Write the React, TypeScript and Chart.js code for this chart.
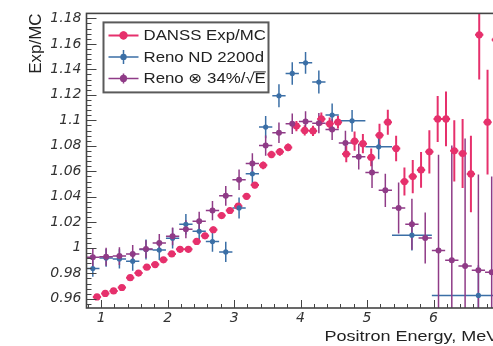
import { useEffect, useRef } from "react";
import { Chart, registerables } from "chart.js";

Chart.register(...registerables);

// DANSS measured / predicted positron spectrum, 125 keV bins
const DANSS_E = [
  0.9375, 1.0625, 1.1875, 1.3125, 1.4375, 1.5625, 1.6875, 1.8125, 1.9375, 2.0625,
  2.1875, 2.3125, 2.4375, 2.5625, 2.6875, 2.8125, 2.9375, 3.0625, 3.1875, 3.3125,
  3.4375, 3.5625, 3.6875, 3.8125, 3.9375, 4.0625, 4.1875, 4.3125, 4.4375, 4.5625,
  4.6875, 4.8125, 4.9375, 5.0625, 5.1875, 5.3125, 5.4375, 5.5625, 5.6875, 5.8125,
  5.9375, 6.0625, 6.1875, 6.3125, 6.4375, 6.5625, 6.6875, 6.8125, 6.9375,
];
const DANSS_RATIO = [
  0.9615, 0.9642, 0.9662, 0.9689, 0.9766, 0.9802, 0.9848, 0.9869, 0.9906, 0.9952,
  0.9988, 0.9988, 1.005, 1.0094, 1.0142, 1.0253, 1.0293, 1.0327, 1.0404, 1.0492,
  1.0647, 1.0732, 1.0753, 1.0788, 1.0955, 1.0921, 1.0917, 1.1011, 1.0973, 1.0986,
  1.0736, 1.0837, 1.0817, 1.0709, 1.0883, 1.0986, 1.0779, 1.052, 1.0559, 1.0611,
  1.0753, 1.1011, 1.1011, 1.0761, 1.074, 1.058, 1.1671, 1.0986, 1.1632,
];
const DANSS_ERR = [
  0.0018, 0.0018, 0.0018, 0.0018, 0.0018, 0.0018, 0.0018, 0.0018, 0.0018, 0.0018,
  0.0025, 0.0025, 0.0025, 0.0025, 0.0025, 0.0025, 0.0025, 0.0025, 0.0025, 0.0025,
  0.003, 0.003, 0.003, 0.003, 0.004, 0.004, 0.004, 0.005, 0.005, 0.005,
  0.0065, 0.0075, 0.0075, 0.007, 0.009, 0.0098, 0.01, 0.011, 0.013, 0.014,
  0.017, 0.018, 0.0215, 0.024, 0.027, 0.03, 0.035, 0.041, 0.045,
];
const DANSS_HALF_WIDTH = 0.0625;

// RENO near detector, 2200 days
const RENO_E = [
  0.875, 1.075, 1.275, 1.475, 1.675, 1.875, 2.075, 2.275, 2.475, 2.675,
  2.875, 3.075, 3.275, 3.475, 3.675, 3.875, 4.075, 4.275, 4.475, 4.775,
  5.175, 5.675, 6.675,
];
const RENO_RATIO = [
  0.9838, 0.9921, 0.9913, 0.9895, 0.9987, 0.9983, 1.0075, 1.0185, 1.013, 1.0049,
  0.9968, 1.0313, 1.0581, 1.0947, 1.1193, 1.1368, 1.1451, 1.1301, 1.1042, 1.0996,
  1.0792, 1.0099, 0.9627,
];
const RENO_ERR = [
  0.0065, 0.007, 0.0075, 0.0075, 0.0078, 0.0078, 0.008, 0.008, 0.008, 0.008,
  0.008, 0.0082, 0.0085, 0.0088, 0.009, 0.0088, 0.0085, 0.009, 0.009, 0.0085,
  0.0098, 0.012, 0.0236,
];
const RENO_HALF_WIDTH = [
  0.1, 0.1, 0.1, 0.1, 0.1, 0.1, 0.1, 0.1, 0.1, 0.1,
  0.1, 0.1, 0.1, 0.1, 0.1, 0.1, 0.1, 0.1, 0.1, 0.2,
  0.2, 0.3, 0.7,
];

// RENO near detector folded with a 34%/sqrt(E) resolution
const SMEAR_E = [
  0.875, 1.075, 1.275, 1.475, 1.675, 1.875, 2.075, 2.275, 2.475, 2.675,
  2.875, 3.075, 3.275, 3.475, 3.675, 3.875, 4.075, 4.275, 4.475, 4.675,
  4.875, 5.075, 5.275, 5.475, 5.675, 5.875, 6.075, 6.275, 6.475, 6.675,
  6.875,
];
const SMEAR_RATIO = [
  0.9926, 0.993, 0.9935, 0.9952, 0.999, 1.0038, 1.009, 1.0146, 1.0208, 1.0292,
  1.0408, 1.0534, 1.0662, 1.0802, 1.0903, 1.0973, 1.0991, 1.0978, 1.0929, 1.0823,
  1.0714, 1.059, 1.0451, 1.0313, 1.0185, 1.0077, 0.998, 0.9902, 0.9858, 0.9825,
  0.9809,
];
const SMEAR_ERR = [
  0.007, 0.007, 0.007, 0.007, 0.007, 0.007, 0.007, 0.007, 0.0075, 0.0075,
  0.0078, 0.008, 0.008, 0.008, 0.008, 0.008, 0.008, 0.008, 0.0083, 0.0095,
  0.01, 0.012, 0.013, 0.02, 0.02, 0.02, 0.075, 0.09, 0.1, 0.075,
  0.075,
];
const SMEAR_HALF_WIDTH = 0.1;

const X_TICKS = [1, 2, 3, 4, 5, 6, 7];
const Y_TICKS = [0.96, 0.98, 1, 1.02, 1.04, 1.06, 1.08, 1.1, 1.12, 1.14, 1.16, 1.18];
const X_MIN = 0.78;
const X_MAX = 7.0;
const Y_MIN = 0.9528;
const Y_MAX = 1.1839;

const PINK = "#e6306c";
const BLUE = "#3b6fa6";
const PURPLE = "#8f3b87";
const AXIS = "#444";

const SANS = '"Liberation Sans", "DejaVu Sans", Arial, sans-serif';
const TEXT_STRETCH = 1.2;

type Series = {
  label: string;
  e: number[];
  r: number[];
  err: number[];
  hw: number | number[];
  color: string;
  radius: number;
  barWidth: number;
  order: number;
};

const SERIES: Series[] = [
  { label: "DANSS Exp/MC", e: DANSS_E, r: DANSS_RATIO, err: DANSS_ERR, hw: DANSS_HALF_WIDTH, color: PINK, radius: 3.6, barWidth: 2, order: 3 },
  { label: "Reno ND 2200d", e: RENO_E, r: RENO_RATIO, err: RENO_ERR, hw: RENO_HALF_WIDTH, color: BLUE, radius: 2.6, barWidth: 1.5, order: 2 },
  { label: "Reno \u2297 34%/\u221AE", e: SMEAR_E, r: SMEAR_RATIO, err: SMEAR_ERR, hw: SMEAR_HALF_WIDTH, color: PURPLE, radius: 3, barWidth: 1.5, order: 1 },
];

function formatTick(v: number) {
  return String(parseFloat(Number(v).toFixed(2)));
}

function stretchedText(ctx: CanvasRenderingContext2D, text: string, x: number, y: number) {
  ctx.save();
  ctx.translate(x, y);
  ctx.scale(TEXT_STRETCH, 1);
  ctx.fillText(text, 0, 0);
  ctx.restore();
}

const rootStyle = {
  id: "rootStyle",
  beforeDatasetsDraw(chart: any) {
    const { ctx, chartArea: a, scales } = chart;
    const x = scales.x;
    const y = scales.y;
    ctx.save();
    ctx.beginPath();
    ctx.rect(a.left, a.top, a.right - a.left, a.bottom - a.top);
    ctx.clip();
    for (const s of SERIES) {
      ctx.strokeStyle = s.color;
      ctx.lineWidth = s.barWidth;
      ctx.beginPath();
      s.e.forEach((e, i) => {
        const hw = Array.isArray(s.hw) ? s.hw[i] : s.hw;
        const px = x.getPixelForValue(e);
        const py = y.getPixelForValue(s.r[i]);
        ctx.moveTo(x.getPixelForValue(e - hw), py);
        ctx.lineTo(x.getPixelForValue(e + hw), py);
        ctx.moveTo(px, y.getPixelForValue(s.r[i] - s.err[i]));
        ctx.lineTo(px, y.getPixelForValue(s.r[i] + s.err[i]));
      });
      ctx.stroke();
    }
    ctx.restore();
  },
  afterDraw(chart: any) {
    const { ctx, chartArea: a, scales } = chart;
    const x = scales.x;
    const y = scales.y;
    ctx.save();

    // tick marks pointing into the frame
    ctx.strokeStyle = AXIS;
    ctx.lineWidth = 1;
    ctx.beginPath();
    for (let n = Math.ceil(Y_MIN / 0.004); n * 0.004 <= Y_MAX + 1e-9; n++) {
      const v = n * 0.004;
      const major = Math.abs(n / 5 - Math.round(n / 5)) < 1e-6;
      const py = Math.round(y.getPixelForValue(v)) + 0.5;
      ctx.moveTo(a.left, py);
      ctx.lineTo(a.left + (major ? 10 : 5), py);
    }
    for (let n = Math.ceil(X_MIN / 0.2); n * 0.2 <= X_MAX + 1e-9; n++) {
      const major = n % 5 === 0;
      const px = Math.round(x.getPixelForValue(n * 0.2)) + 0.5;
      ctx.moveTo(px, a.bottom);
      ctx.lineTo(px, a.bottom - (major ? 8 : 4));
    }
    ctx.stroke();

    // frame
    ctx.lineWidth = 1.6;
    ctx.strokeRect(a.left, a.top, a.right - a.left, a.bottom - a.top);

    // legend
    const lx = a.left + 17;
    const ly = a.top + 9;
    const lw = 165;
    const lh = 70;
    ctx.fillStyle = "#fff";
    ctx.fillRect(lx, ly, lw, lh);
    ctx.strokeStyle = "#5a5a5a";
    ctx.lineWidth = 2;
    ctx.strokeRect(lx, ly, lw, lh);
    const rows = [13, 34.5, 56];
    const vbar = [4, 7, 5];
    SERIES.forEach((s, i) => {
      const ry = ly + rows[i];
      const mx = lx + 20;
      ctx.strokeStyle = s.color;
      ctx.lineWidth = s.barWidth;
      ctx.beginPath();
      ctx.moveTo(lx + 5, ry);
      ctx.lineTo(lx + 35, ry);
      ctx.moveTo(mx, ry - vbar[i]);
      ctx.lineTo(mx, ry + vbar[i]);
      ctx.stroke();
      ctx.fillStyle = s.color;
      ctx.beginPath();
      ctx.arc(mx, ry, s.radius + 0.6, 0, Math.PI * 2);
      ctx.fill();

      ctx.fillStyle = "#222";
      ctx.font = `14px ${SANS}`;
      ctx.textAlign = "left";
      ctx.textBaseline = "alphabetic";
      const tx = lx + 40;
      const base = ry + 5;
      stretchedText(ctx, s.label, tx, base);
      if (i === 2) {
        // vinculum over E of the square root
        const head = ctx.measureText(s.label.slice(0, -1)).width * TEXT_STRETCH;
        const tail = ctx.measureText("E").width * TEXT_STRETCH;
        ctx.strokeStyle = "#222";
        ctx.lineWidth = 1;
        ctx.beginPath();
        ctx.moveTo(tx + head - 1, base - 11.5);
        ctx.lineTo(tx + head + tail, base - 11.5);
        ctx.stroke();
      }
    });

    // axis titles
    ctx.fillStyle = "#222";
    ctx.font = `15px ${SANS}`;
    ctx.textAlign = "left";
    ctx.textBaseline = "alphabetic";
    stretchedText(ctx, "Positron Energy, MeV", a.left + 238, 340.5);

    ctx.save();
    ctx.translate(41, a.top);
    ctx.rotate(-Math.PI / 2);
    ctx.font = `17px ${SANS}`;
    ctx.textAlign = "right";
    ctx.textBaseline = "alphabetic";
    ctx.fillText("Exp/MC", 0, 0);
    ctx.restore();

    ctx.restore();
  },
};

const tickFont = { family: '"DejaVu Sans", sans-serif', size: 14, style: "italic" as const };

export default function App() {
  const canvasRef = useRef<HTMLCanvasElement | null>(null);

  useEffect(() => {
    const canvas = canvasRef.current;
    if (!canvas) return;
    const chart = new Chart(canvas, {
      type: "scatter",
      data: {
        datasets: SERIES.map((s) => ({
          label: s.label,
          data: s.e.map((e, i) => ({ x: e, y: s.r[i] })),
          pointRadius: s.radius,
          pointHoverRadius: s.radius,
          pointBackgroundColor: s.color,
          pointBorderWidth: 0,
          showLine: false,
          order: s.order,
        })),
      },
      options: {
        responsive: false,
        animation: false,
        devicePixelRatio: 1,
        events: [],
        layout: { padding: { top: 10, right: 20, left: 0, bottom: 0 } },
        plugins: { legend: { display: false }, tooltip: { enabled: false } },
        scales: {
          x: {
            type: "linear",
            min: X_MIN,
            max: X_MAX,
            border: { display: false },
            grid: { display: false, drawTicks: false },
            ticks: {
              font: tickFont,
              color: "#333",
              padding: 2,
              autoSkip: false,
              maxRotation: 0,
              callback: (v: any) => formatTick(v),
            },
            afterBuildTicks: (scale: any) => {
              scale.ticks = X_TICKS.map((v) => ({ value: v }));
            },
            afterFit: (scale: any) => {
              scale.height = 38;
            },
          },
          y: {
            type: "linear",
            min: Y_MIN,
            max: Y_MAX,
            border: { display: false },
            grid: { display: false, drawTicks: false },
            ticks: {
              font: tickFont,
              color: "#333",
              padding: 5,
              autoSkip: false,
              callback: (v: any) => formatTick(v),
            },
            afterBuildTicks: (scale: any) => {
              scale.ticks = Y_TICKS.map((v) => ({ value: v }));
            },
            afterFit: (scale: any) => {
              scale.width = 86.5;
            },
          },
        },
      },
      plugins: [rootStyle],
    });
    return () => chart.destroy();
  }, []);

  return (
    <div
      style={{
        position: "fixed",
        left: 0,
        top: 0,
        width: 493,
        height: 346,
        overflow: "hidden",
        background: "#fff",
      }}
    >
      <canvas ref={canvasRef} width={520} height={346} style={{ display: "block", width: 520, height: 346 }} />
    </div>
  );
}
